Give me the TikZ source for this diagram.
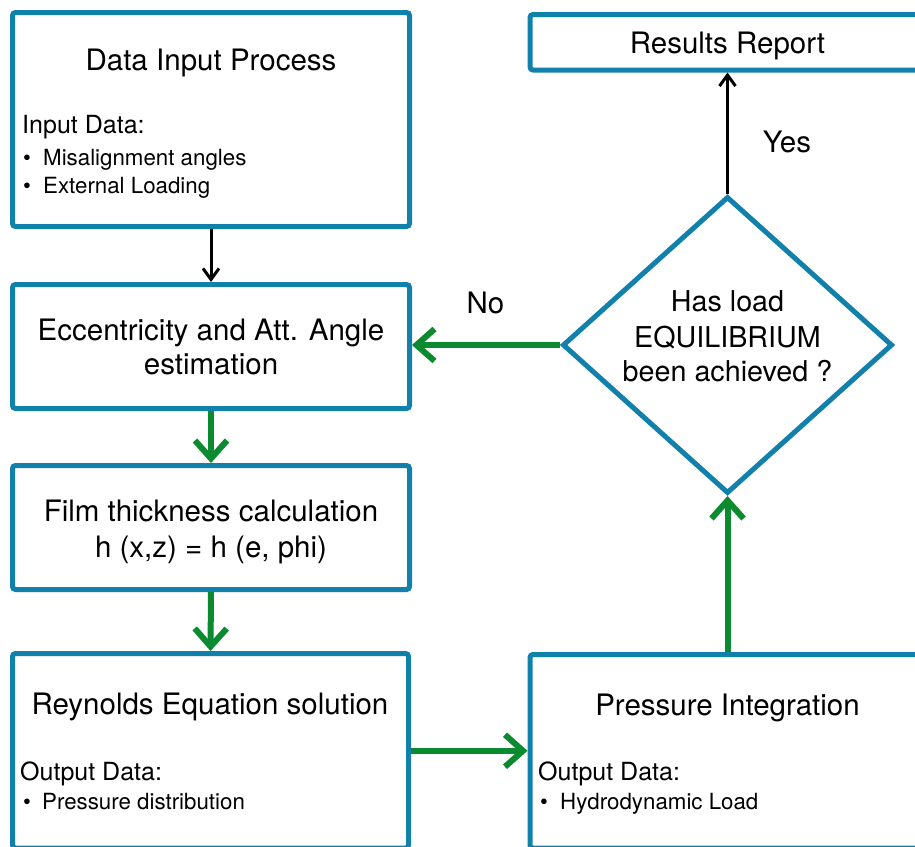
\documentclass[tikz,border=0pt]{standalone}
\usepackage{fontspec}
\setmainfont{TeX Gyre Heros}
\usetikzlibrary{arrows.meta,shapes.geometric}
\definecolor{boxblue}{RGB}{17,128,171}
\definecolor{flowgreen}{RGB}{12,138,48}
\begin{document}
\begin{tikzpicture}[x=1pt,y=-1pt,
  box/.style={draw=boxblue, line width=5pt, rounded corners=3pt, fill=white,
    inner sep=0pt, minimum width=397pt},
  title/.style={font=\fontsize{29.5}{35}\selectfont, anchor=base, inner sep=0pt},
  head/.style={font=\fontsize{25}{30}\selectfont, anchor=base west, inner sep=0pt},
  item/.style={font=\fontsize{22.3}{27}\selectfont, anchor=base west, inner sep=0pt},
  dtext/.style={font=\fontsize{28.7}{35}\selectfont, anchor=base, inner sep=0pt},
  greenflow/.style={draw=flowgreen, line width=6pt,
    -{Straight Barb[length=18pt,width=32pt]}},
  blackflow/.style={draw=black, line width=3pt,
    -{Straight Barb[length=11pt,width=16pt]}}]
\useasboundingbox (0,0) rectangle (915,846);
\clip (0,0) rectangle (915,846);
\fill[white] (0,0) rectangle (915,846);

% left column
\node[box, minimum height=214pt] (data) at (211,119.5) {};
\node[title] (dataT) at (211,70) {Data Input Process};
\node[head] (dataH) at (22,133) {Input Data:};
\node[item] (dataB1) at (23,165) {\textbullet};
\node[item] (dataI1) at (43,165) {Misalignment angles};
\node[item] (dataB2) at (23,193) {\textbullet};
\node[item] (dataI2) at (43,193) {External Loading};

\node[box, minimum height=124pt] (ecc) at (211,346.5) {};
\node[title] (eccT1) at (211,340) {Eccentricity and Att. Angle};
\node[title] (eccT2) at (211,374) {estimation};

\node[box, minimum height=124pt] (film) at (211,527.5) {};
\node[title] (filmT1) at (211,521) {Film thickness calculation};
\node[title] (filmT2) at (211,557) {h (x,z) = h (e, phi)};

\node[box, minimum width=396pt, minimum height=194.5pt] (rey) at (210.5,750.75) {};
\node[title] (reyT) at (210,714) {Reynolds Equation solution};
\node[head] (reyH) at (20,780) {Output Data:};
\node[item] (reyB1) at (23,809) {\textbullet};
\node[item] (reyI1) at (42,809) {Pressure distribution};

% right column
\node[box, minimum width=395pt, minimum height=55.5pt] (res) at (727.5,42.25) {};
\node[title] (resT) at (727.5,53) {Results Report};

\node[draw=boxblue, line width=5pt, shape=diamond, fill=white,
  minimum width=330pt, minimum height=297pt, inner sep=0pt] (dia) at (727.5,345) {};
\node[dtext] (diaT1) at (727.5,311) {Has load};
\node[dtext] (diaT2) at (727.5,347) {EQUILIBRIUM};
\node[dtext] (diaT3) at (727.5,381) {been achieved ?};

\node[box, minimum width=395pt, minimum height=193.5pt] (pint) at (727.5,751.25) {};
\node[title] (pintT) at (727.5,715) {Pressure Integration};
\node[head] (pintH) at (538,780) {Output Data:};
\node[item] (pintB1) at (540,809) {\textbullet};
\node[item] (pintI1) at (560,809) {Hydrodynamic Load};

% decision labels
\node[title] (no) at (485.5,313) {No};
\node[title] (yes) at (787,152) {Yes};

% connectors
\draw[blackflow] (data.south) -- (ecc.north);
\draw[greenflow] (ecc.south) -- (film.north);
\draw[greenflow] (film.south) -- (rey.north);
\draw[greenflow] (rey.east) -- (rey.east -| pint.west);
\draw[greenflow] (pint.north) -- (dia.south);
\draw[greenflow] (dia.west) -- (dia.west -| ecc.east);
\draw[blackflow] (dia.north) -- (res.south);
\end{tikzpicture}
\end{document}
